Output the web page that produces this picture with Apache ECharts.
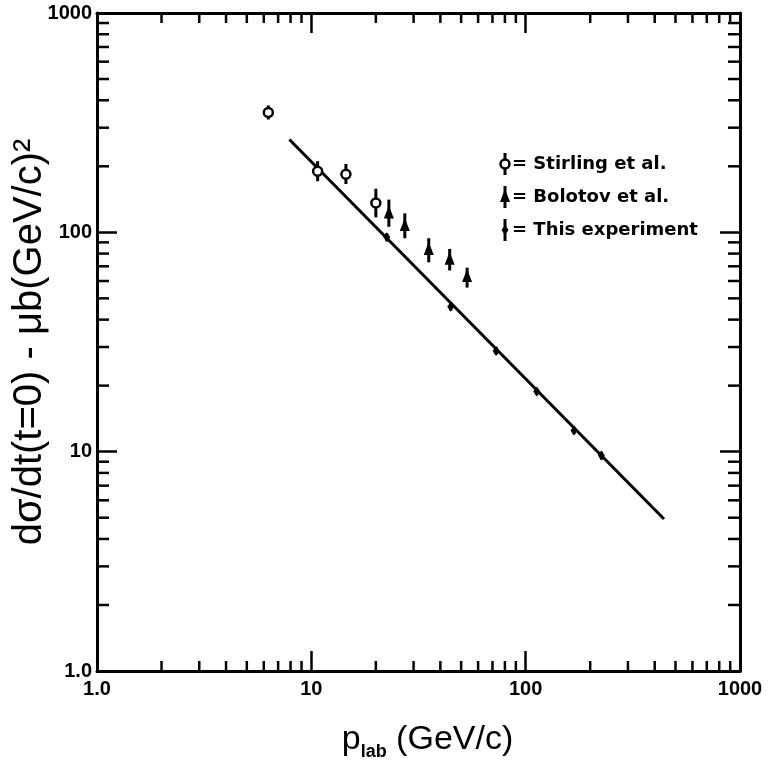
<!DOCTYPE html>
<html><head><meta charset="utf-8">
<script src="https://cdn.jsdelivr.net/npm/echarts@6/dist/echarts.min.js"></script>
<style>html,body{margin:0;padding:0;background:#fff}#c{width:772px;height:766px}</style>
</head><body><div id="c"></div>
<script>
const stirlingP = [6.3, 10.7, 14.5, 20.0];
const stirlingSig = [352, 190, 184, 136];
const stirlingLo = [327, 171, 166, 117];
const stirlingHi = [379, 211, 205, 158];

const bolotovP = [23.0, 27.3, 35.3, 44.2, 53.3];
const bolotovSig = [122, 107, 83, 75, 62.5];
const bolotovLo = [106, 94, 73, 67, 56];
const bolotovHi = [141, 122, 94, 84, 69];

const expP = [22.5, 44.7, 72.8, 112.7, 168, 225.6];
const expSig = [94.9, 45.8, 28.8, 18.8, 12.5, 9.6];
const expLo = [91, 44, 27.7, 18.1, 12.0, 9.2];
const expHi = [99, 47.6, 30, 19.5, 13.0, 10.0];

const fitP = [7.9, 442];
const fitSig = [265, 4.93];

const majorTickLabels = {1: '1.0', 10: '10', 100: '100', 1000: '1000'};
const minorTicks = [2,3,4,5,6,7,8,9,20,30,40,50,60,70,80,90,200,300,400,500,600,700,800,900];
const legendLabels = ['= Stirling et al.', '= Bolotov et al.', '= This experiment'];

const FONT = 'Liberation Sans';
const chart = echarts.init(document.getElementById('c'), null, {renderer: 'canvas'});

function markerShape(kind, x, y) {
  if (kind === 'open') return {type: 'circle', shape: {cx: x, cy: y, r: 4.5}, style: {fill: '#fff', stroke: '#000', lineWidth: 2.5}};
  if (kind === 'tri') return {type: 'polygon', shape: {points: [[x, y - 8], [x - 5, y + 5], [x + 5, y + 5]]}, style: {fill: '#000'}};
  return {type: 'polygon', shape: {points: [[x, y - 5], [x - 3.5, y], [x, y + 5], [x + 3.5, y]]}, style: {fill: '#000'}};
}

function errSeries(name, P, S, L, H, marker) {
  return {
    name, type: 'custom', coordinateSystem: 'cartesian2d', clip: false, z: 5,
    data: P.map((p, i) => [p, S[i], L[i], H[i]]),
    renderItem: (params, api) => {
      const c = api.coord([api.value(0), api.value(1)]);
      const lo = api.coord([api.value(0), api.value(2)]);
      const hi = api.coord([api.value(0), api.value(3)]);
      return {type: 'group', children: [
        {type: 'line', shape: {x1: c[0], y1: lo[1], x2: c[0], y2: hi[1]}, style: {stroke: '#000', lineWidth: 3}},
        markerShape(marker, c[0], c[1])
      ]};
    }
  };
}

const tickStyle = {stroke: '#000', lineWidth: 2.5};
const labelStyle = {fontFamily: FONT, fontSize: 20, fontWeight: 'bold', color: '#000'};
const axisCommon = {
  type: 'log', logBase: 10, min: 1, max: 1000, splitNumber: 3,
  axisLine: {show: true, onZero: false, lineStyle: {color: '#000', width: 3}},
  axisTick: {show: true, inside: true, length: 20, lineStyle: {color: '#000', width: 2.5}},
  splitLine: {show: false}, minorTick: {show: false}
};

const legendGraphics = [];
['open', 'tri', 'dot'].forEach((k, i) => {
  const y = 164 + i * 33, x = 505;
  legendGraphics.push({type: 'line', shape: {x1: x, y1: y - 11, x2: x, y2: y + 11}, style: {stroke: '#000', lineWidth: 3}});
  legendGraphics.push(markerShape(k, x, y));
  legendGraphics.push({type: 'text', x: 512, y: y, style: {text: legendLabels[i], fontFamily: 'DejaVu Sans', fontSize: 18, fontWeight: 'bold', fill: '#000', verticalAlign: 'middle'}});
});

chart.setOption({
  backgroundColor: '#fff',
  animation: false,
  grid: {left: 97, right: 32, top: 13, bottom: 95, containLabel: false, outerBoundsMode: 'none'},
  xAxis: [
    Object.assign({}, axisCommon, {
      position: 'bottom',
      axisLabel: Object.assign({margin: 8, formatter: v => majorTickLabels[Math.round(v)] || ''}, labelStyle),
      name: '{a|p}{s|lab}{a| (GeV/c)}', nameLocation: 'middle', nameGap: 48,
      nameTextStyle: {padding: [0, 0, 0, 18], rich: {
        a: {fontFamily: FONT, fontSize: 34, color: '#000'},
        s: {fontFamily: FONT, fontSize: 18, fontWeight: 'bold', color: '#000', padding: [24, 0, 0, 0]}
      }}
    }),
    Object.assign({}, axisCommon, {position: 'top', axisLabel: {show: false}})
  ],
  yAxis: [
    Object.assign({}, axisCommon, {
      position: 'left',
      axisLabel: Object.assign({margin: 5, formatter: v => majorTickLabels[Math.round(v)] || ''}, labelStyle),
      name: 'dσ/dt(t=0) - μb(GeV/c)²', nameLocation: 'middle', nameGap: 47, nameRotate: 90,
      nameMoveOverlap: false,
      nameTextStyle: {fontFamily: FONT, fontSize: 40, color: '#000'}
    }),
    Object.assign({}, axisCommon, {position: 'right', axisLabel: {show: false}})
  ],
  graphic: legendGraphics,
  series: [
    {
      type: 'custom', coordinateSystem: 'cartesian2d', clip: false, silent: true,
      data: minorTicks.map(v => [v, 1]),
      renderItem: (params, api) => {
        const cs = params.coordSys;
        const x = api.coord([api.value(0), 1])[0];
        return {type: 'group', children: [
          {type: 'line', shape: {x1: x, y1: cs.y + cs.height, x2: x, y2: cs.y + cs.height - 10}, style: tickStyle},
          {type: 'line', shape: {x1: x, y1: cs.y, x2: x, y2: cs.y + 10}, style: tickStyle}
        ]};
      }
    },
    {
      type: 'custom', coordinateSystem: 'cartesian2d', clip: false, silent: true,
      data: minorTicks.map(v => [1, v]),
      renderItem: (params, api) => {
        const cs = params.coordSys;
        const y = api.coord([1, api.value(1)])[1];
        return {type: 'group', children: [
          {type: 'line', shape: {x1: cs.x, y1: y, x2: cs.x + 12, y2: y}, style: tickStyle},
          {type: 'line', shape: {x1: cs.x + cs.width, y1: y, x2: cs.x + cs.width - 12, y2: y}, style: tickStyle}
        ]};
      }
    },
    {
      name: 'fit', type: 'line', data: fitP.map((p, i) => [p, fitSig[i]]),
      showSymbol: false, symbol: 'none', lineStyle: {color: '#000', width: 3}, z: 4
    },
    errSeries('Stirling et al.', stirlingP, stirlingSig, stirlingLo, stirlingHi, 'open'),
    errSeries('Bolotov et al.', bolotovP, bolotovSig, bolotovLo, bolotovHi, 'tri'),
    errSeries('This experiment', expP, expSig, expLo, expHi, 'dot')
  ]
});
</script></body></html>
